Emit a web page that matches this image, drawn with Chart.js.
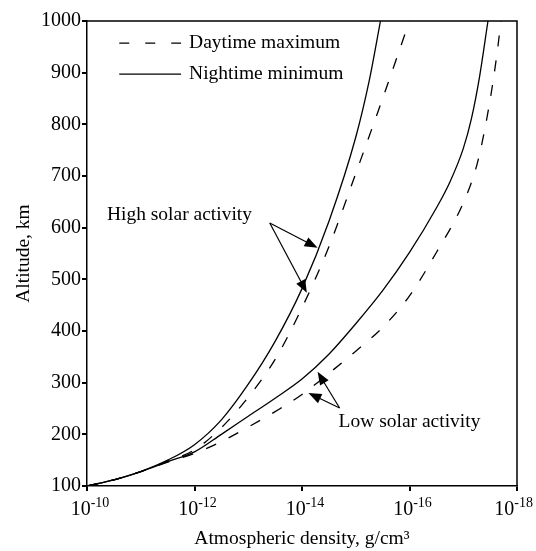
<!DOCTYPE html>
<html>
<head>
<meta charset="utf-8">
<script src="https://cdn.jsdelivr.net/npm/chart.js@4"></script>
<style>
html, body { margin: 0; padding: 0; background: #fff; }
</style>
</head>
<body>
<canvas id="density_chart" width="536" height="551"></canvas>
<script>
// log10 of density (g/cm3) against altitude (km), one pair of arrays per curve
const highNightLog = [-10, -10.5, -11, -11.5, -12, -12.5, -13, -13.5, -14, -14.5, -15, -15.25, -15.46];
const highNightAlt = [100, 112, 128, 150, 180, 228, 297, 380, 482, 612, 775, 884, 1000];

const highDayLog = [-10, -10.5, -11, -11.5, -12, -12.5, -13, -13.5, -14, -14.5, -15, -15.5, -16];
const highDayAlt = [100, 112, 128, 148, 170, 213, 272, 345, 445, 563, 705, 850, 1000];

const lowNightLog = [-10, -10.5, -11, -11.5, -12, -12.5, -13, -13.5, -14, -14.5, -15, -15.5, -16, -16.5, -16.75, -17, -17.15, -17.3, -17.46];
const lowNightAlt = [100, 112, 128, 147, 166, 200, 235, 270, 307, 355, 414, 478, 552, 638, 688, 753, 810, 890, 1000];

const lowDayLog = [-10, -10.5, -11, -11.5, -12, -12.5, -13, -13.5, -14, -14.5, -15, -15.5, -16, -16.5, -17, -17.25, -17.4, -17.55, -17.65, -17.7];
const lowDayAlt = [100, 112, 128, 146, 163, 186, 214, 244, 277, 318, 361, 407, 468, 552, 648, 720, 790, 880, 955, 1000];

const xTicks = [-10, -12, -14, -16, -18];
const yTicks = [100, 200, 300, 400, 500, 600, 700, 800, 900, 1000];

const serif = "'Liberation Serif', 'Times New Roman', serif";

const toPoints = (xs, ys) => xs.map((x, i) => ({ x: x, y: ys[i] }));

const curve = (label, xs, ys, dashed) => ({
  label: label,
  data: toPoints(xs, ys),
  showLine: true,
  borderColor: '#000',
  borderWidth: 1.3,
  borderDash: dashed ? [11, 14] : [],
  pointRadius: 0,
  cubicInterpolationMode: 'monotone',
  fill: false
});

// legend + labels + arrows, placed in data units
const notes = {
  legend: [
    { x1: -10.6, x2: -11.75, y: 957, dashed: true, text: 'Daytime maximum' },
    { x1: -10.6, x2: -11.75, y: 897, dashed: false, text: 'Nightime minimum' }
  ],
  labels: [
    { x: -10.37, y: 624, text: 'High solar activity' },
    { x: -14.68, y: 224, text: 'Low solar activity' }
  ],
  arrows: [
    { from: [-13.40, 609], to: [-14.29, 561] },
    { from: [-13.40, 609], to: [-14.09, 474] },
    { from: [-14.70, 251], to: [-14.29, 321] },
    { from: [-14.70, 251], to: [-14.12, 280] }
  ]
};

const drawArrow = (ctx, x1, y1, x2, y2) => {
  const ang = Math.atan2(y2 - y1, x2 - x1);
  const len = 13, half = 5;
  const c = Math.cos(ang), s = Math.sin(ang);
  ctx.beginPath();
  ctx.moveTo(x1, y1);
  ctx.lineTo(x2 - c * len * 0.8, y2 - s * len * 0.8);
  ctx.stroke();
  ctx.beginPath();
  ctx.moveTo(x2, y2);
  ctx.lineTo(x2 - c * len - s * half, y2 - s * len + c * half);
  ctx.lineTo(x2 - c * len + s * half, y2 - s * len - c * half);
  ctx.closePath();
  ctx.fill();
};

const notesPlugin = {
  id: 'notes',
  afterDatasetsDraw(chart) {
    const ctx = chart.ctx;
    const sx = chart.scales.x, sy = chart.scales.y;
    const a = chart.chartArea;
    ctx.save();
    ctx.strokeStyle = '#000';
    ctx.fillStyle = '#000';

    // frame on top and right
    ctx.lineWidth = 1.5;
    ctx.beginPath();
    ctx.moveTo(a.left, a.top);
    ctx.lineTo(a.right, a.top);
    ctx.lineTo(a.right, a.bottom);
    ctx.stroke();

    // x tick labels: 10 with a raised exponent
    ctx.textBaseline = 'alphabetic';
    ctx.textAlign = 'left';
    xTicks.forEach(v => {
      const base = '10', exp = String(v);
      ctx.font = '20px ' + serif;
      const wb = ctx.measureText(base).width;
      ctx.font = '14px ' + serif;
      const we = ctx.measureText(exp).width;
      let x0 = sx.getPixelForValue(v) - (wb + we) / 2 + 3;
      x0 = Math.min(x0, chart.width - 3 - wb - we);
      ctx.font = '20px ' + serif;
      ctx.fillText(base, x0, a.bottom + 29);
      ctx.font = '14px ' + serif;
      ctx.fillText(exp, x0 + wb, a.bottom + 21);
    });

    ctx.font = '19.5px ' + serif;
    ctx.textBaseline = 'middle';
    ctx.lineWidth = 1.3;
    notes.legend.forEach(l => {
      const y = sy.getPixelForValue(l.y);
      ctx.setLineDash(l.dashed ? [10, 16] : []);
      ctx.beginPath();
      ctx.moveTo(sx.getPixelForValue(l.x1), y);
      ctx.lineTo(sx.getPixelForValue(l.x2), y);
      ctx.stroke();
      ctx.fillText(l.text, sx.getPixelForValue(l.x2) + 8, y);
    });
    ctx.setLineDash([]);

    notes.labels.forEach(l => {
      ctx.fillText(l.text, sx.getPixelForValue(l.x), sy.getPixelForValue(l.y));
    });

    ctx.lineWidth = 1.2;
    notes.arrows.forEach(r => {
      drawArrow(ctx,
        sx.getPixelForValue(r.from[0]), sy.getPixelForValue(r.from[1]),
        sx.getPixelForValue(r.to[0]), sy.getPixelForValue(r.to[1]));
    });
    ctx.restore();
  }
};

const data = {
  datasets: [
    curve('High, daytime maximum', highDayLog, highDayAlt, true),
    curve('High, nightime minimum', highNightLog, highNightAlt, false),
    curve('Low, daytime maximum', lowDayLog, lowDayAlt, true),
    curve('Low, nightime minimum', lowNightLog, lowNightAlt, false)
  ]
};

const config = {
  type: 'scatter',
  data: data,
  options: {
    responsive: false,
    animation: false,
    layout: { padding: { top: 21, right: 19, left: 0, bottom: 0 } },
    plugins: { legend: { display: false }, tooltip: { enabled: false } },
    scales: {
      x: {
        type: 'linear',
        min: -18,
        max: -10,
        reverse: true,
        afterFit: s => { s.height = 65; },
        afterBuildTicks: s => { s.ticks = xTicks.map(v => ({ value: v })); },
        ticks: { display: false },
        grid: { drawOnChartArea: false, drawTicks: true, tickLength: 5, color: '#000', lineWidth: 2 },
        border: { display: true, color: '#000', width: 1.5 },
        title: {
          display: true,
          text: 'Atmospheric density, g/cm\u00B3',
          color: '#000',
          font: { family: serif, size: 19.5 },
          padding: { top: 6, bottom: 0 }
        }
      },
      y: {
        min: 100,
        max: 1000,
        afterFit: s => { s.width = 87; },
        afterBuildTicks: s => { s.ticks = yTicks.map(v => ({ value: v })); },
        ticks: {
          color: '#000',
          font: { family: serif, size: 20 },
          padding: 1,
          callback: v => String(v)
        },
        grid: { drawOnChartArea: false, drawTicks: true, tickLength: 5, color: '#000', lineWidth: 2 },
        border: { display: true, color: '#000', width: 1.5 },
        title: {
          display: true,
          text: 'Altitude, km',
          color: '#000',
          font: { family: serif, size: 19.5 },
          padding: { top: 12, bottom: 0 }
        }
      }
    }
  },
  plugins: [notesPlugin]
};

const graph = new Chart(document.getElementById('density_chart'), config);
</script>
</body>
</html>
